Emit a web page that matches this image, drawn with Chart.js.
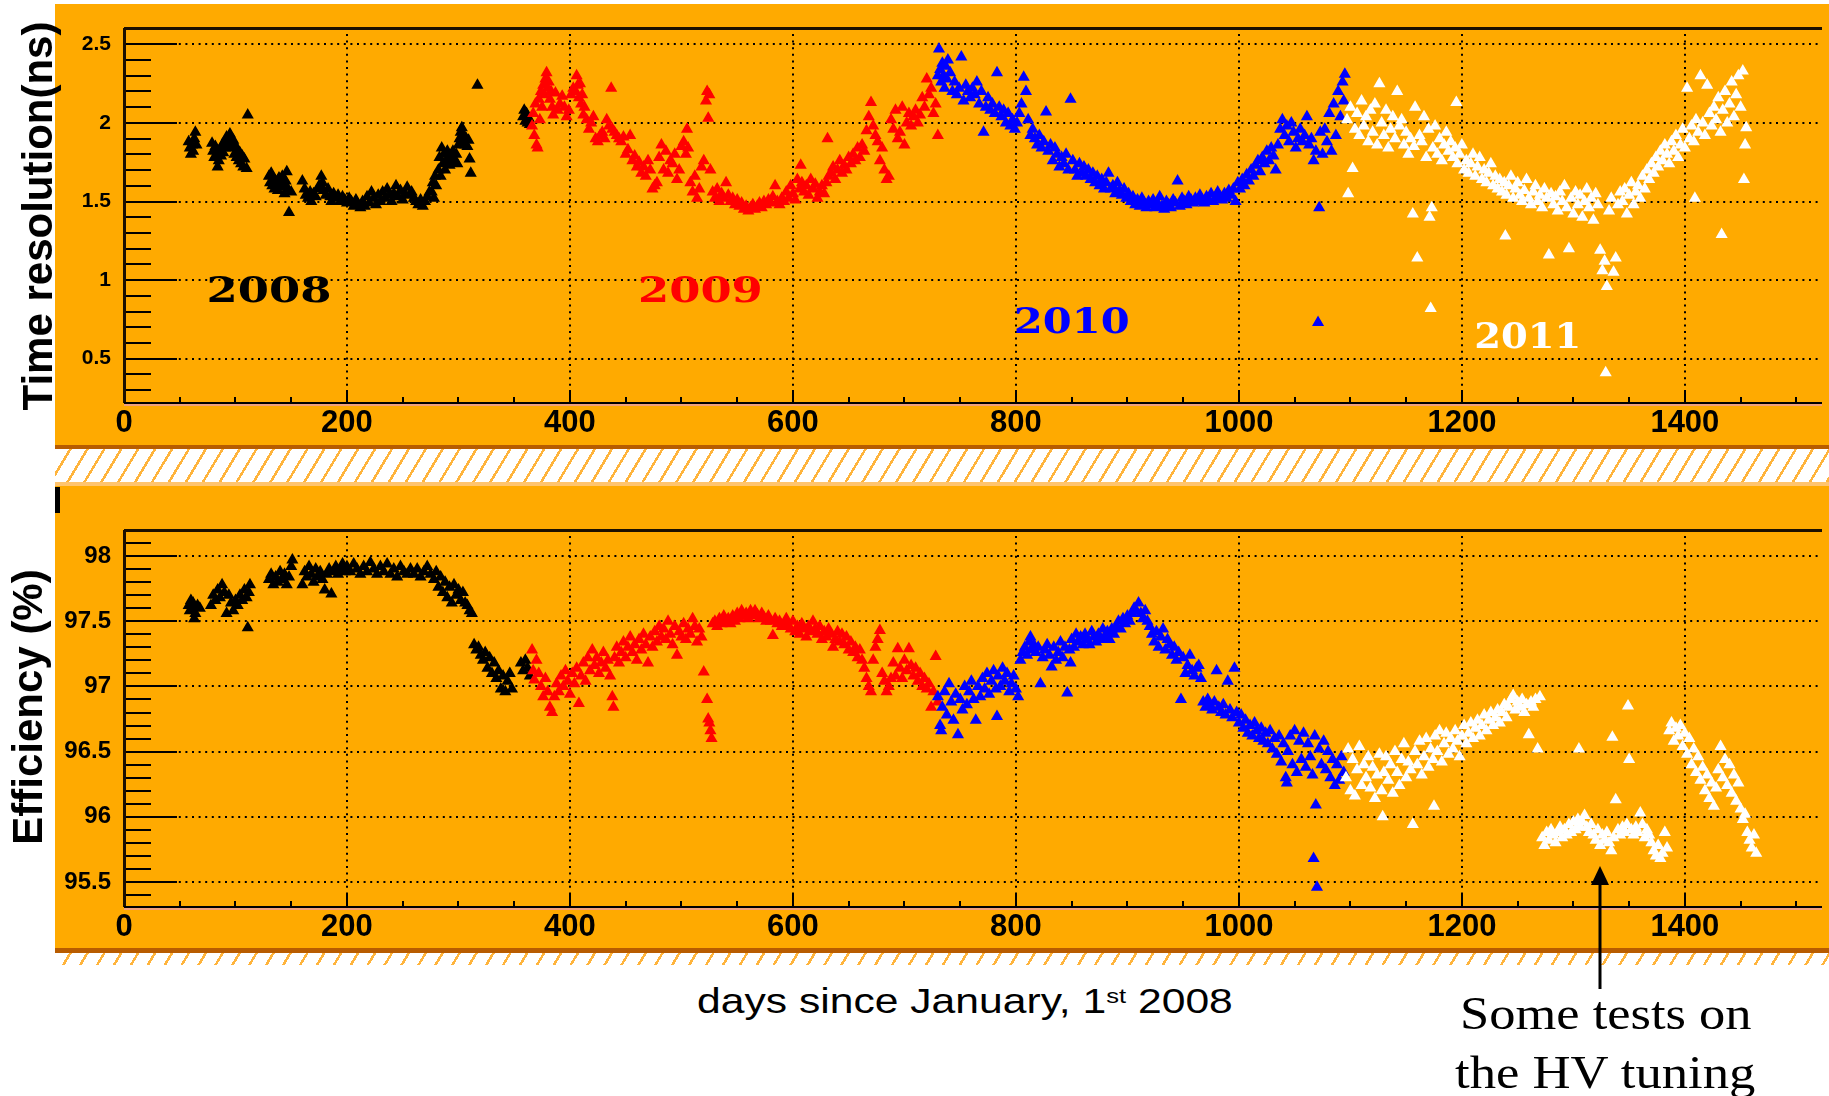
<!DOCTYPE html>
<html>
<head>
<meta charset="utf-8">
<script src="https://cdn.jsdelivr.net/npm/chart.js@4.4.1/dist/chart.umd.min.js"></script>
<style>
  html, body { margin: 0; padding: 0; background: #fff; width: 1829px; height: 1096px; overflow: hidden; position: relative; }
  .panel { position: absolute; left: 55px; width: 1774px; background: #ffaa00; }
  .hatch { position: absolute; left: 55px; width: 1774px;
           background: repeating-linear-gradient(121deg, #ffffff 0 12px, #ffb43c 12px 14.5px); }
  canvas { position: absolute; left: 0; }
  .txt { position: absolute; white-space: nowrap; transform-origin: 0 0; color: #000; line-height: 1; }
  .sans { font-family: "Liberation Sans", Arial, sans-serif; font-size: 35px; }
  .serif { font-family: "Liberation Serif", "Times New Roman", serif; font-size: 46px; }
  .sans sup { font-size: 21px; line-height: 0; vertical-align: 10px; }
</style>
</head>
<body>
<div class="panel" style="top:4px;height:441px;border-bottom:4px solid #b85c00"></div>
<div class="hatch" style="top:449px;height:33px"></div>
<div class="panel" style="top:482px;height:462px;border-top:4px solid #ffc46e;border-bottom:5px solid #b85c00"></div>
<div class="hatch" style="top:953px;height:12px"></div>
<div style="position:absolute;left:55px;top:487px;width:5px;height:26px;background:#000"></div>

<canvas id="resChart" width="1829" height="447" style="top:0"></canvas>
<canvas id="effChart" width="1829" height="463" style="top:485px"></canvas>

<div id="xTitle" class="txt sans" style="left:697px;top:983px">days since January, 1<sup>st</sup> 2008</div>
<div id="note1" class="txt serif" style="left:1460px;top:991px">Some tests on</div>
<div id="note2" class="txt serif" style="left:1455px;top:1050px">the HV tuning</div>
<svg style="position:absolute;left:0;top:0" width="1829" height="1096">
  <line x1="1600" y1="989" x2="1600" y2="880" stroke="#000" stroke-width="3"/>
  <polygon points="1600,866 1591,885 1609,885" fill="#000"/>
</svg>

<script>
// axis ticks
const dayTicks = [0, 200, 400, 600, 800, 1000, 1200, 1400];
const resTicks = [0.5, 1, 1.5, 2, 2.5];
const effTicks = [95.5, 96, 96.5, 97, 97.5, 98];
const years = ["2008", "2009", "2010", "2011"];
const yearColors = ["#000000", "#ff0000", "#0000ff", "#ffffff"];

/* Time resolution (ns) */
const resDays2008 = [58,59,60,61,62,63,64,65,
  79,80,81,82,83,84,85,86,87,88, 89,90,91,92,93,94,95,96,97,98,
  99,100,101,102,103,104,105,106,107,108, 110,111,130,131,132,133,134,135,136,137,
  138,139,140,141,142,143,144,145,146,147, 148,150,160,162,163,165,167,168,170,172,
  174,175,177,178,179,181,183,185,186,188, 190,192,194,196,198,200,202,204,206,208,
  210,212,214,216,218,220,222,224,226,228, 230,232,234,236,238,240,242,244,246,248,
  250,252,254,256,258,260,262,264,266,268, 270,272,274,276,277,278,279,280,282,283,
  284,285,286,287,288,289,290,292,293,294, 295,296,298,299,300,301,302,303,304,305,
  306,307,308,309,310,311,317,358,359,360, 361,362,363,364];
const resVals2008 = [1.88,1.84,1.80,1.86,1.82,1.90,1.94,1.86,
  1.87,1.82,1.78,1.85,1.80,1.72,1.76,1.83,1.79,1.86, 1.81,1.88,1.84,1.91,1.86,1.90,1.93,1.88,1.84,1.89,
  1.80,1.85,1.78,1.83,1.76,1.81,1.74,1.79,1.72,1.77, 1.71,2.05,1.66,1.62,1.68,1.60,1.64,1.58,1.63,1.61,
  1.57,1.65,1.62,1.59,1.66,1.61,1.55,1.63,1.69,1.58, 1.43,1.56,1.63,1.58,1.54,1.52,1.56,1.50,1.55,1.53,
  1.58,1.60,1.66,1.62,1.57,1.54,1.58,1.53,1.50,1.55, 1.52,1.54,1.50,1.53,1.51,1.49,1.52,1.50,1.47,1.51,
  1.48,1.46,1.50,1.47,1.53,1.49,1.56,1.52,1.48,1.54, 1.50,1.56,1.52,1.58,1.54,1.50,1.55,1.60,1.53,1.57,
  1.51,1.55,1.59,1.54,1.56,1.52,1.50,1.48,1.51,1.47, 1.50,1.53,1.56,1.56,1.62,1.52,1.66,1.60,1.70,1.78,
  1.66,1.84,1.74,1.80,1.70,1.76,1.82,1.73,1.79,1.75, 1.82,1.77,1.80,1.74,1.86,1.90,1.94,1.97,1.88,1.92,
  1.86,1.90,1.85,1.89,1.77,1.68,2.24,2.04,2.08,2.01, 2.06,2.00,2.03,1.99];

const resDays2009 = [366,367,368,369,370,371,372,373,374,375, 376,377,378,379,380,381,382,383,384,385,
  387,389,391,393,395,397,399,401,403,405, 406,407,408,409,410,411,412,413,415,417,
  419,421,423,425,427,429,431,433,435,437, 438,440,442,444,446,448,450,452,454,456,
  458,460,462,464,466,468,470,472,474,476, 478,480,482,484,486,488,490,492,494,496,
  498,500,502,504,505,506,508,510,512,514, 516,518,520,522,523,524,525,526,528,530,
  532,534,536,538,540,542,544,546,548,550, 552,554,556,558,560,562,564,566,568,570,
  572,574,576,578,580,582,584,586,588,590, 592,594,596,598,600,602,604,606,607,608,
  610,612,614,616,618,620,622,624,626,628, 630,631,632,634,636,638,640,642,644,646,
  648,650,652,654,656,658,660,662,664,666, 668,670,672,674,676,678,680,682,684,686,
  688,690,692,694,696,698,700,702,704,706, 708,710,712,714,716,718,720,722,724,726,
  728,730];
const resVals2009 = [1.98,2.06,1.92,2.12,1.86,1.84,2.15,2.02,2.20,2.10, 2.24,2.18,2.28,2.32,2.22,2.26,2.15,2.20,2.10,2.05,
  2.19,2.08,2.12,2.17,2.10,2.04,2.08,2.18,2.22,2.20, 2.30,2.24,2.16,2.25,2.12,2.18,2.05,2.10,2.02,1.96,
  2.00,2.04,1.90,1.88,1.92,1.94,1.90,2.02,1.98,2.22, 1.96,1.94,1.92,1.90,1.88,1.91,1.80,1.83,1.92,1.76,
  1.79,1.72,1.75,1.68,1.72,1.66,1.76,1.70,1.58,1.60, 1.62,1.78,1.86,1.70,1.82,1.68,1.76,1.74,1.80,1.64,
  1.70,1.85,1.88,1.80,1.96,1.84,1.62,1.56,1.66,1.52, 1.58,1.72,1.76,2.14,2.20,2.03,2.18,1.70,1.56,1.52,
  1.58,1.50,1.55,1.52,1.62,1.54,1.50,1.52,1.48,1.51, 1.47,1.49,1.45,1.47,1.44,1.46,1.48,1.45,1.47,1.49,
  1.46,1.50,1.48,1.51,1.49,1.53,1.60,1.50,1.48,1.52, 1.50,1.56,1.52,1.60,1.55,1.51,1.64,1.58,1.73,1.62,
  1.56,1.60,1.54,1.64,1.58,1.61,1.52,1.56,1.60,1.55, 1.62,1.90,1.66,1.68,1.72,1.64,1.70,1.76,1.68,1.73,
  1.70,1.78,1.74,1.80,1.76,1.84,1.78,1.86,1.82,1.95, 2.04,2.13,1.98,1.92,1.88,1.76,1.84,1.70,1.64,1.66,
  2.02,1.96,2.08,1.90,1.94,2.10,1.86,2.00,2.06,1.98, 2.04,2.08,2.00,2.05,2.16,2.10,2.28,2.18,2.22,2.06,
  2.12,1.92];

const resDays2010 = [730,731,732,733,734,735,736,737,738,739, 741,743,745,747,749,751,753,755,757,759,
  761,763,765,767,769,771,773,775,777,779, 781,783,785,787,789,791,793,795,797,799,
  801,803,805,807,809,811,813,815,817,819, 821,823,825,827,829,831,833,835,837,839,
  841,843,845,847,849,851,853,855,857,859, 861,863,865,867,869,871,873,875,877,879,
  881,883,885,887,889,891,893,895,897,899, 901,903,905,907,909,911,913,915,917,919,
  921,923,925,927,929,931,933,935,937,939, 941,943,945,947,949,951,953,955,957,959,
  961,963,965,967,969,971,973,975,977,979, 981,983,985,987,989,991,993,995,997,999,
  1001,1003,1005,1007,1009,1011,1013,1015,1017,1019, 1021,1023,1025,1027,1029,1031,1033,1035,1037,1039,
  1041,1043,1045,1047,1049,1051,1053,1055,1057,1059, 1061,1063,1065,1067,1069,1071,1072,1073,1075,1077,
  1079,1081,1083,1085,1087,1089,1091,1093,1094,1095];
const resVals2010 = [2.30,2.47,2.34,2.26,2.38,2.30,2.22,2.36,2.28,2.40, 2.32,2.20,2.26,2.18,2.22,2.42,2.14,2.24,2.20,2.16,
  2.22,2.18,2.26,2.12,2.20,1.94,2.10,2.16,2.08,2.12, 2.06,2.32,2.10,2.04,2.08,2.00,2.06,1.98,2.02,1.96,
  2.00,2.06,2.12,2.29,2.20,2.02,1.92,1.96,1.90,1.86, 1.92,1.84,1.88,2.07,1.82,1.86,1.76,1.84,1.80,1.72,
  1.78,1.74,1.80,1.70,2.15,1.76,1.70,1.66,1.74,1.68, 1.72,1.66,1.70,1.64,1.68,1.62,1.66,1.60,1.64,1.58,
  1.62,1.68,1.58,1.60,1.55,1.62,1.57,1.54,1.58,1.52, 1.55,1.50,1.53,1.48,1.51,1.47,1.52,1.49,1.46,1.50,
  1.48,1.51,1.46,1.49,1.53,1.47,1.45,1.50,1.48,1.46, 1.51,1.49,1.63,1.47,1.52,1.50,1.48,1.53,1.51,1.49,
  1.52,1.50,1.54,1.51,1.49,1.53,1.51,1.55,1.50,1.52, 1.56,1.53,1.51,1.55,1.52,1.57,1.54,1.58,1.50,1.62,
  1.58,1.64,1.60,1.67,1.63,1.70,1.66,1.73,1.76,1.69, 1.78,1.74,1.82,1.76,1.84,1.79,1.70,1.86,1.96,2.02,
  1.92,1.98,1.88,2.00,1.94,1.84,1.90,1.96,1.88,1.92, 2.04,1.86,1.90,1.76,1.82,0.73,1.46,1.94,1.80,1.96,
  1.88,2.06,1.82,2.12,1.92,2.20,2.04,2.26,2.14,2.31];

const resDays2011 = [1097,1098,1100,1102,1104,1106,1108,1110,1112,1114, 1116,1118,1120,1122,1124,1126,1128,1130,1132,1134,
  1136,1138,1140,1142,1144,1146,1148,1150,1152,1154, 1156,1157,1158,1160,1162,1164,1166,1168,1170,1171,
  1172,1173,1174,1176,1178,1180,1182,1184,1186,1188, 1190,1192,1194,1195,1196,1198,1200,1202,1204,1206,
  1208,1210,1212,1214,1216,1218,1220,1222,1224,1226, 1228,1230,1232,1234,1236,1238,1239,1240,1242,1244,
  1246,1248,1250,1252,1254,1256,1258,1260,1262,1264, 1266,1268,1270,1272,1274,1276,1278,1280,1282,1284,
  1286,1288,1290,1292,1294,1296,1298,1300,1302,1304, 1306,1308,1310,1312,1314,1316,1318,1320,1322,1324,
  1326,1328,1329,1330,1332,1334,1336,1338,1340,1342, 1344,1346,1348,1350,1352,1354,1356,1358,1360,1362,
  1364,1366,1368,1370,1372,1374,1376,1378,1380,1382, 1384,1386,1388,1390,1392,1394,1396,1398,1400,1402,
  1404,1406,1408,1409,1410,1412,1414,1416,1418,1420, 1422,1424,1426,1428,1430,1432,1433,1434,1436,1438,
  1440,1442,1444,1446,1448,1450,1452,1453,1454,1455];
const resVals2011 = [2.02,1.55,2.10,1.71,1.96,2.06,1.92,2.14,1.98,2.04, 1.88,2.08,1.94,2.12,1.86,2.25,2.00,1.92,2.08,1.84,
  1.96,2.04,1.90,2.20,1.98,2.02,1.86,1.94,1.80,1.90, 1.42,1.85,2.10,1.14,1.92,1.88,2.04,1.78,1.96,1.40,
  0.82,1.46,1.84,1.98,1.80,1.90,1.76,1.86,1.94,1.82, 1.88,1.78,1.84,2.13,1.74,1.80,1.86,1.70,1.76,1.68,
  1.74,1.80,1.66,1.72,1.78,1.64,1.70,1.62,1.68,1.74, 1.60,1.66,1.58,1.64,1.56,1.62,1.28,1.54,1.60,1.66,
  1.52,1.58,1.62,1.54,1.50,1.57,1.64,1.52,1.48,1.56, 1.60,1.50,1.54,1.46,1.58,1.52,1.16,1.55,1.48,1.53,
  1.44,1.56,1.50,1.60,1.46,1.20,1.52,1.42,1.56,1.48, 1.54,1.40,1.50,1.58,1.46,1.52,1.38,1.55,1.48,1.19,
  1.06,1.12,0.41,0.96,1.44,1.52,1.05,1.14,1.48,1.56, 1.50,1.58,1.42,1.54,1.62,1.48,1.56,1.60,1.52,1.66,
  1.58,1.70,1.64,1.74,1.68,1.78,1.72,1.82,1.76,1.86, 1.80,1.74,1.88,1.82,1.92,1.78,1.86,1.96,1.84,2.22,
  1.90,1.98,1.88,1.52,2.02,1.94,2.30,2.00,1.92,2.24, 2.06,1.98,2.10,2.02,2.16,1.94,1.29,2.08,2.20,2.00,
  2.12,2.26,2.04,2.18,2.30,2.10,2.33,1.64,1.86,1.97];

/* Efficiency (%) */
const effDays2008 = [58,59,60,61,62,63,64,66,68,
  78,80,82,84,86,88,90,92,94,96, 98,100,102,104,106,108,110,111,112,113,
  130,132,134,136,138,140,142,144,146,148, 150,151,160,162,164,166,168,170,172,174,
  176,178,180,182,184,186,188,190,192,194, 196,198,200,203,206,209,212,215,218,221,
  224,227,230,233,236,239,242,245,248,251, 254,257,260,263,266,269,272,275,278,280,
  282,284,286,288,290,292,294,296,298,300, 302,304,306,308,310,312,314,316,318,320,
  322,324,326,328,330,332,334,336,338,340, 342,344,346,348,356,358,360,362,364];
const effVals2008 = [97.62,97.58,97.66,97.60,97.64,97.52,97.56,97.62,97.60,
  97.62,97.70,97.66,97.74,97.68,97.78,97.72,97.56,97.70,97.64, 97.58,97.66,97.62,97.70,97.66,97.74,97.68,97.45,97.72,97.78,
  97.82,97.86,97.78,97.84,97.80,97.88,97.82,97.86,97.78,97.84, 97.92,97.97,97.78,97.88,97.84,97.92,97.86,97.80,97.90,97.84,
  97.88,97.82,97.74,97.86,97.90,97.71,97.88,97.92,97.86,97.90, 97.94,97.88,97.92,97.88,97.94,97.90,97.86,97.92,97.88,97.95,
  97.90,97.86,97.92,97.88,97.94,97.86,97.90,97.84,97.92,97.88, 97.86,97.90,97.86,97.90,97.84,97.88,97.92,97.86,97.82,97.88,
  97.76,97.84,97.72,97.80,97.68,97.76,97.64,97.78,97.70,97.74, 97.66,97.72,97.64,97.62,97.58,97.56,97.32,97.28,97.30,97.24,
  97.20,97.26,97.14,97.22,97.10,97.18,97.06,97.12,96.98,97.08, 96.96,97.04,97.10,96.98,97.18,97.12,97.20,97.14,97.08];

const effDays2009 = [366,367,368,370,372,374,376,378,380,382, 384,386,388,390,392,394,396,398,400,402,
  404,406,408,410,412,414,416,418,420,422, 424,426,428,430,432,434,436,438,439,440,
  442,444,446,448,450,452,454,456,458,460, 462,464,466,468,470,472,474,476,478,480,
  482,484,486,488,490,492,494,496,498,500, 502,504,506,508,510,512,514,516,518,520,
  523,524,525,526,527,528,530,532,534,536, 538,540,542,544,546,548,550,552,554,556,
  558,560,562,564,566,568,570,572,574,576, 578,580,582,584,586,588,590,592,594,596,
  598,600,602,604,606,608,610,612,614,616, 618,620,622,624,626,628,630,632,634,636,
  638,640,642,644,646,648,650,652,654,656, 658,660,662,664,666,668,670,672,674,676,
  678,680,682,684,686,688,690,692,694,696, 698,700,702,704,706,708,710,712,714,716,
  718,720,722,724,726,728,730];
const effVals2009 = [97.28,97.12,97.05,97.20,97.10,97.00,96.92,97.06,96.96,96.84, 96.80,96.92,97.02,96.96,97.08,97.00,97.12,97.04,96.94,97.10,
  97.02,97.14,96.87,97.08,97.18,97.04,97.22,97.12,97.28,97.16, 97.22,97.10,97.18,97.26,97.14,97.20,97.08,96.92,96.84,97.22,
  97.30,97.18,97.26,97.34,97.22,97.30,97.38,97.26,97.32,97.20, 97.36,97.28,97.40,97.32,97.18,97.38,97.30,97.42,97.34,97.46,
  97.38,97.44,97.36,97.50,97.40,97.32,97.46,97.24,97.42,97.38, 97.48,97.36,97.44,97.40,97.52,97.46,97.34,97.44,97.38,97.11,
  96.90,96.75,96.72,96.66,96.60,97.48,97.50,97.46,97.52,97.48, 97.54,97.50,97.52,97.48,97.54,97.50,97.56,97.52,97.58,97.54,
  97.56,97.52,97.58,97.54,97.58,97.55,97.52,97.56,97.53,97.50, 97.54,97.50,97.39,97.52,97.48,97.50,97.46,97.48,97.52,97.46,
  97.44,97.50,97.42,97.46,97.40,97.48,97.44,97.38,97.46,97.42, 97.50,97.44,97.40,97.46,97.36,97.42,97.38,97.44,97.40,97.30,
  97.36,97.42,97.34,97.40,97.32,97.38,97.28,97.34,97.26,97.30, 97.22,97.28,97.20,97.14,97.06,97.00,96.96,97.20,97.30,97.36,
  97.43,97.10,97.04,96.96,97.00,97.06,97.18,97.08,97.29,97.14, 97.06,97.20,97.12,97.29,97.16,97.08,97.14,97.04,97.10,97.00,
  97.06,96.98,97.02,96.84,96.96,97.23,96.88];

const effDays2010 = [730,732,733,734,736,738,740,742,744,746, 748,750,752,754,756,758,760,762,764,766,
  768,770,772,774,776,778,780,782,783,784, 786,788,790,792,794,796,798,800,802,804,
  806,808,810,812,813,814,816,818,820,822, 824,826,828,830,832,834,836,838,840,842,
  844,846,848,849,850,852,854,856,858,860, 862,864,866,868,870,872,874,876,878,880,
  882,884,886,888,890,892,894,896,898,900, 902,904,906,908,910,912,914,916,918,920,
  922,924,926,928,930,932,934,936,938,940, 942,944,946,948,950,952,954,956,958,960,
  962,964,966,968,970,972,974,976,978,980, 982,984,986,988,990,992,994,996,998,1000,
  1002,1004,1006,1008,1010,1012,1014,1016,1018,1020, 1022,1024,1026,1028,1030,1032,1034,1036,1038,1040,
  1042,1043,1044,1046,1048,1050,1052,1054,1056,1058, 1060,1062,1064,1066,1067,1068,1069,1070,1072,1074,
  1076,1078,1080,1082,1084,1086,1088,1090,1092,1094];
const effVals2010 = [96.92,96.70,96.66,96.84,96.96,96.78,97.02,96.88,96.74,96.94, 96.63,96.90,96.82,97.00,96.86,96.96,97.04,96.90,96.74,97.00,
  96.92,97.06,96.98,97.10,96.94,97.04,97.12,96.98,96.77,97.08, 97.00,97.14,97.04,97.10,96.96,97.02,97.08,96.98,96.92,97.20,
  97.26,97.30,97.24,97.34,97.38,97.28,97.32,97.26,97.30,97.02, 97.22,97.28,97.32,97.24,97.15,97.30,97.20,97.26,97.34,97.22,
  97.30,96.95,97.28,97.18,97.36,97.30,97.40,97.34,97.38,97.32, 97.40,97.36,97.32,97.42,97.38,97.34,97.40,97.36,97.44,97.38,
  97.42,97.36,97.44,97.40,97.46,97.50,97.44,97.52,97.48,97.54, 97.50,97.56,97.60,97.58,97.64,97.56,97.52,97.58,97.50,97.46,
  97.40,97.34,97.42,97.30,97.38,97.44,97.28,97.36,97.32,97.24, 97.30,97.20,97.26,96.90,97.22,97.10,97.16,97.24,97.12,97.08,
  97.14,97.16,97.06,96.88,96.84,96.90,96.86,96.82,96.88,97.12, 96.84,96.80,96.86,96.78,97.04,96.82,96.76,97.14,96.80,96.72,
  96.78,96.68,96.74,96.64,96.70,96.62,96.72,96.66,96.60,96.68, 96.58,96.64,96.56,96.66,96.52,96.60,96.48,96.62,96.42,96.56,
  96.30,96.26,96.50,96.62,96.40,96.66,96.34,96.58,96.44,96.64, 96.38,96.56,96.46,96.32,95.68,96.62,96.09,95.46,96.52,96.40,
  96.58,96.36,96.50,96.30,96.44,96.24,96.40,96.28,96.46,96.34];

const effDays2011 = [1096,1098,1100,1102,1104,1106,1108,1110,1112,1114, 1116,1118,1120,1122,1124,1126,1128,1129,1130,1132,
  1134,1136,1138,1140,1142,1144,1146,1148,1150,1152, 1154,1156,1158,1160,1162,1164,1166,1168,1170,1172,
  1174,1175,1176,1178,1180,1182,1184,1186,1188,1190, 1192,1194,1196,1198,1200,1202,1204,1206,1208,1210,
  1212,1214,1216,1218,1220,1222,1224,1226,1228,1230, 1232,1234,1236,1238,1240,1242,1244,1246,1248,1250,
  1252,1254,1256,1258,1260,1262,1264,1266,1268,1270, 1272,1274,1276,1278,1280,1282,1284,1286,1288,1290,
  1292,1294,1296,1298,1300,1302,1304,1305,1306,1308, 1310,1312,1314,1316,1318,1320,1322,1324,1326,1328,
  1330,1332,1334,1335,1336,1338,1340,1342,1344,1346, 1348,1349,1350,1352,1354,1356,1358,1360,1362,1364,
  1366,1368,1370,1372,1374,1376,1378,1380,1382,1384, 1386,1388,1390,1392,1394,1396,1398,1400,1402,1404,
  1406,1408,1410,1412,1414,1416,1418,1420,1422,1424, 1426,1428,1430,1432,1434,1436,1438,1440,1442,1444,
  1446,1448,1450,1452,1454,1456,1458,1460,1462,1464];
const effVals2011 = [96.30,96.52,96.20,96.44,96.16,96.36,96.54,96.24,96.40,96.30, 96.46,96.22,96.38,96.14,96.32,96.48,96.20,96.00,96.34,96.46,
  96.28,96.40,96.18,96.50,96.34,96.24,96.44,96.56,96.30,96.42, 96.36,95.94,96.50,96.40,96.58,96.32,96.46,96.60,96.38,96.52,
  96.44,96.08,96.62,96.50,96.66,96.42,96.56,96.64,96.48,96.60, 96.52,96.66,96.58,96.46,96.62,96.70,96.56,96.64,96.72,96.60,
  96.68,96.74,96.62,96.70,96.78,96.66,96.74,96.80,96.70,96.76, 96.82,96.72,96.80,96.86,96.76,96.84,96.90,96.93,96.82,96.88,
  96.84,96.90,96.80,96.86,96.63,96.88,96.84,96.90,96.52,96.92, 95.84,95.78,95.88,95.82,95.90,95.86,95.80,95.88,95.92,95.84,
  95.90,95.86,95.94,95.88,95.96,95.90,95.98,96.52,95.92,95.96, 96.01,95.92,95.88,95.94,95.86,95.82,95.90,95.78,95.86,95.82,
  95.88,95.80,95.74,96.61,95.84,96.13,95.90,95.86,95.92,95.88, 95.94,96.85,96.44,95.90,95.86,95.92,95.88,96.03,95.94,95.84,
  95.90,95.86,95.80,95.74,95.70,95.78,95.68,95.72,95.88,95.76, 96.66,96.72,96.58,96.68,96.62,96.70,96.54,96.64,96.48,96.60,
  96.40,96.52,96.34,96.46,96.28,96.38,96.20,96.32,96.14,96.26, 96.08,96.22,96.36,96.54,96.30,96.44,96.24,96.40,96.18,96.32,
  96.12,96.26,96.06,95.98,96.02,95.88,95.82,95.76,95.86,95.72];

const xMax = 1523;
const sansBold = '"Liberation Sans", Arial, sans-serif';

function series(daysList, valsList) {
  return years.map((yr, i) => ({
    label: yr,
    data: daysList[i].map((d, k) => ({ x: d, y: valsList[i][k] })),
    backgroundColor: yearColors[i],
    borderColor: yearColors[i],
    borderWidth: 1.5,
    pointStyle: "triangle",
    pointRadius: 5.5,
    order: years.length - 1 - i
  }));
}

/* ROOT-like frame: dotted grid, inner ticks, axis lines, title, year tags */
function rootFrame(look) {
  return {
    id: "rootFrame",
    beforeDatasetsDraw(chart) {
      const { ctx, chartArea: a } = chart;
      const x = chart.scales.x, y = chart.scales.y;
      ctx.save();
      ctx.strokeStyle = "#000";
      ctx.lineWidth = 2;
      ctx.setLineDash([2, 4.6]);
      ctx.beginPath();
      look.yTicks.forEach(v => {
        const p = Math.round(y.getPixelForValue(v));
        ctx.moveTo(a.left + 2, p); ctx.lineTo(a.right, p);
      });
      dayTicks.forEach(v => {
        if (v === 0) return;
        const p = Math.round(x.getPixelForValue(v));
        ctx.moveTo(p, a.top + 6); ctx.lineTo(p, a.bottom);
      });
      ctx.stroke();
      ctx.setLineDash([]);

      ctx.beginPath();
      for (let k = Math.ceil(y.min * 10); k < y.max * 10 - 0.5; k++) {
        const v = k / 10;
        const major = look.yTicks.some(t => Math.abs(t - v) < 1e-6);
        const p = Math.round(y.getPixelForValue(v));
        ctx.moveTo(a.left, p); ctx.lineTo(a.left + (major ? 53 : 27), p);
      }
      for (let d = 50; d < x.max; d += 50) {
        const p = Math.round(x.getPixelForValue(d));
        ctx.moveTo(p, a.bottom); ctx.lineTo(p, a.bottom - (d % 200 === 0 ? 13 : 6));
      }
      ctx.stroke();

      ctx.fillStyle = "#1c1000";
      ctx.fillRect(a.left, a.top - 1, a.right - a.left, 3);
      ctx.fillRect(a.left - 1, a.top, 3, a.bottom - a.top);
      ctx.fillStyle = "#000";
      ctx.fillRect(a.left, a.bottom - 1, a.right - a.left, 2);
      ctx.fillStyle = "#f2a07a";
      ctx.fillRect(a.left, a.bottom + 1, a.right - a.left, 2);
      ctx.restore();
    },
    afterDatasetsDraw(chart) {
      const { ctx } = chart;
      const x = chart.scales.x, y = chart.scales.y;
      ctx.save();
      // axis title
      ctx.fillStyle = "#000";
      ctx.font = "bold 42px " + sansBold;
      ctx.textAlign = "center";
      ctx.textBaseline = "alphabetic";
      ctx.translate(look.titleX, look.titleY);
      ctx.rotate(-Math.PI / 2);
      ctx.fillText(look.title, 0, 0);
      ctx.restore();

      (look.tags || []).forEach((tag, i) => {
        const left = x.getPixelForValue(tag.from);
        const right = x.getPixelForValue(tag.to);
        const base = y.getPixelForValue(tag.at);
        ctx.save();
        ctx.font = 'bold 36px "DejaVu Serif", serif';
        ctx.fillStyle = yearColors[i];
        ctx.textBaseline = "alphabetic";
        const w = ctx.measureText(years[i]).width;
        ctx.translate(left, base);
        ctx.scale((right - left) / w, 1);
        ctx.fillText(years[i], 0, 0);
        ctx.restore();
      });
    }
  };
}

function drawPanel(id, datasets, yMin, yMax, look) {
  return new Chart(document.getElementById(id), {
    type: "scatter",
    data: { datasets },
    options: {
      responsive: false,
      animation: false,
      devicePixelRatio: 1,
      events: [],
      layout: { padding: { top: look.padTop, left: 0, right: 0, bottom: 0 } },
      plugins: { legend: { display: false }, tooltip: { enabled: false } },
      scales: {
        x: {
          type: "linear", min: 0, max: xMax,
          afterFit: s => { s.height = look.xAxisH; },
          afterBuildTicks: s => { s.ticks = dayTicks.map(v => ({ value: v })); },
          grid: { display: false, drawTicks: false },
          border: { display: false },
          ticks: { autoSkip: false, maxRotation: 0, padding: 2, color: "#000",
                   font: { family: sansBold, size: 31, weight: "bold" }, callback: v => String(v) }
        },
        y: {
          type: "linear", min: yMin, max: yMax,
          afterFit: s => { s.width = 124; },
          afterBuildTicks: s => { s.ticks = look.yTicks.map(v => ({ value: v })); },
          grid: { display: false, drawTicks: false },
          border: { display: false },
          ticks: { autoSkip: false, padding: 13, color: "#000",
                   font: { family: sansBold, size: look.yFont, weight: "bold" }, callback: v => String(v) }
        }
      }
    },
    plugins: [rootFrame(look)]
  });
}

drawPanel("resChart",
  series([resDays2008, resDays2009, resDays2010, resDays2011], [resVals2008, resVals2009, resVals2010, resVals2011]),
  0.218, 2.604,
  { padTop: 28, xAxisH: 44, yTicks: resTicks, yFont: 21,
    title: "Time resolution(ns)", titleX: 52, titleY: 216,
    tags: [ { from: 74, to: 186, at: 0.861 }, { from: 461, to: 573, at: 0.861 },
            { from: 798, to: 902, at: 0.664 }, { from: 1211, to: 1307, at: 0.568 } ] });

drawPanel("effChart",
  series([effDays2008, effDays2009, effDays2010, effDays2011], [effVals2008, effVals2009, effVals2010, effVals2011]),
  95.308, 98.2,
  { padTop: 45, xAxisH: 41, yTicks: effTicks, yFont: 24,
    title: "Efficiency (%)", titleX: 42, titleY: 222 });

function fitWidth(id, w) {
  const el = document.getElementById(id);
  el.style.transform = "scaleX(" + (w / el.offsetWidth) + ")";
}
fitWidth("xTitle", 536);
fitWidth("note1", 292);
fitWidth("note2", 300);
</script>
</body>
</html>
